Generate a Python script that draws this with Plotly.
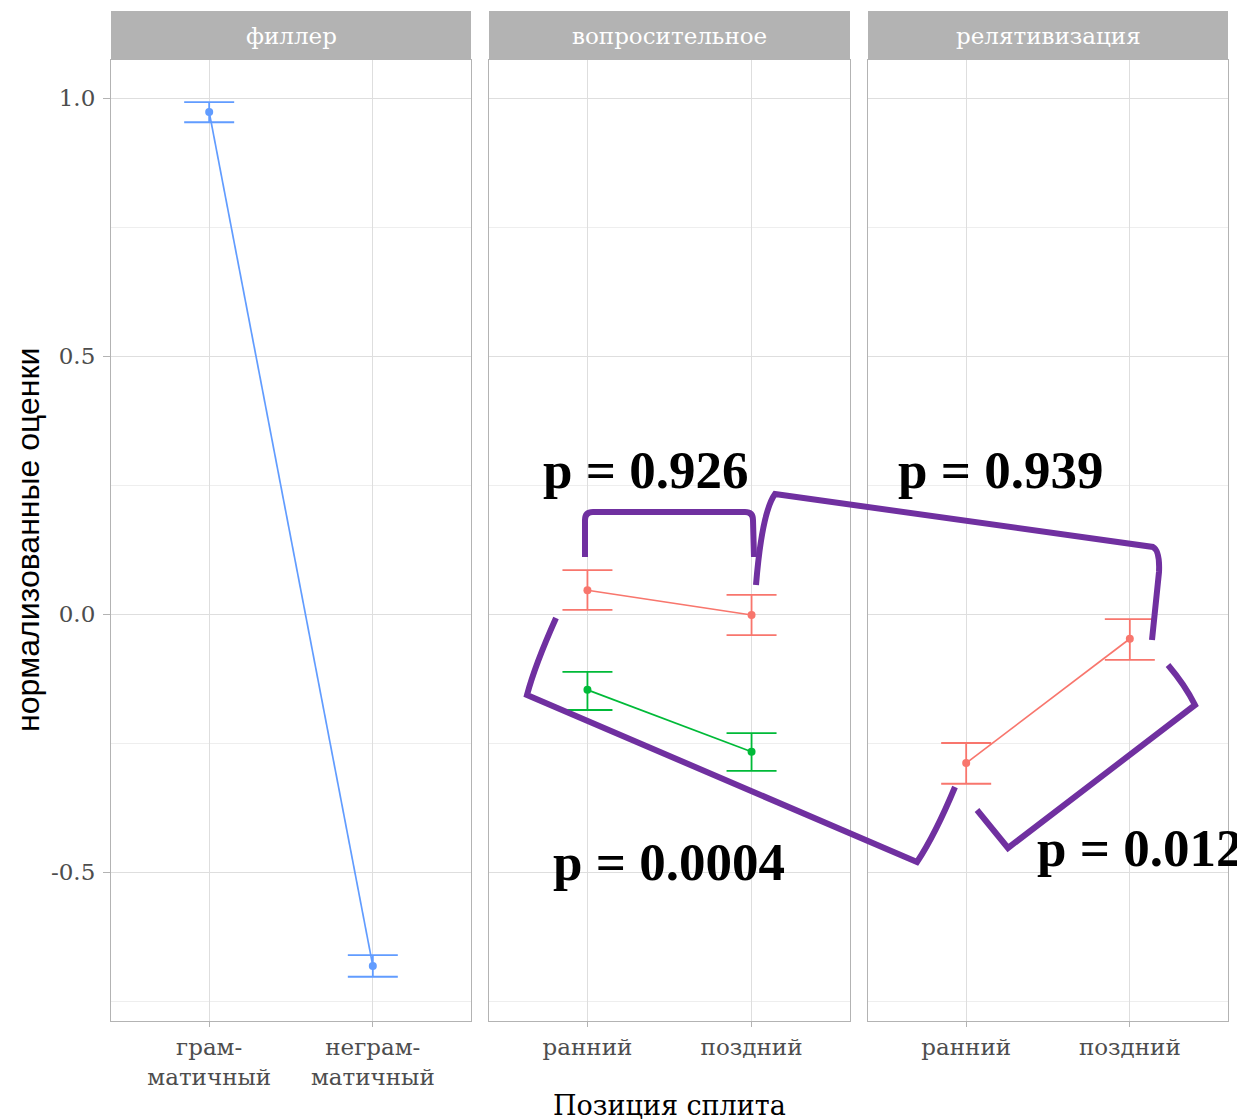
import plotly.graph_objects as go

# ---------------- data ----------------
panels = ["филлер", "вопросительное", "релятивизация"]

filler_cats = ["грам-", "неграм-"]
filler_ticktext = ["грам-<br>матичный", "неграм-<br>матичный"]
filler_mean = [0.973, -0.682]
filler_hi = [0.992, -0.661]
filler_lo = [0.953, -0.703]

pos_cats = ["ранний", "поздний"]

q_red_mean = [0.046, -0.002]
q_red_hi = [0.085, 0.037]
q_red_lo = [0.008, -0.041]

q_green_mean = [-0.147, -0.267]
q_green_hi = [-0.112, -0.231]
q_green_lo = [-0.186, -0.304]

r_red_mean = [-0.289, -0.048]
r_red_hi = [-0.250, -0.010]
r_red_lo = [-0.329, -0.089]

p_labels = ["p = 0.926", "p = 0.939", "p = 0.0004", "p = 0.012"]

y_ticks = [-0.5, 0.0, 0.5, 1.0]
y_ticktext = ["-0.5", "0.0", "0.5", "1.0"]

BLUE = "#619CFF"
RED = "#F8766D"
GREEN = "#00BA38"
PURPLE = "#7030A0"

# page places the figure 8px in from the top-left corner
OFF = 8
W, H = 1245, 1120
PL, PR, PT, PB = 111, 1228, 11, 1021       # plot box in screen pixels
ML = PL - OFF
MT = PT - OFF
MR = W - (PR - OFF)
MB = H - (PB - OFF)
PW = PR - PL
PH = PB - PT


def px(x):
    return (x - PL) / PW


def py(y):
    return (PB - y) / PH


fig = go.Figure()


def add_series(xaxis, yaxis, cats, mean, hi, lo, color):
    fig.add_trace(go.Scatter(
        x=cats, y=mean, xaxis=xaxis, yaxis=yaxis,
        mode="lines+markers",
        line=dict(color=color, width=1.7),
        marker=dict(color=color, size=8),
        error_y=dict(type="data", symmetric=False,
                     array=[h - m for h, m in zip(hi, mean)],
                     arrayminus=[m - l for m, l in zip(mean, lo)],
                     color=color, thickness=1.8, width=25),
        showlegend=False, hoverinfo="skip"))


add_series("x", "y", filler_cats, filler_mean, filler_hi, filler_lo, BLUE)
add_series("x2", "y2", pos_cats, q_red_mean, q_red_hi, q_red_lo, RED)
add_series("x2", "y2", pos_cats, q_green_mean, q_green_hi, q_green_lo, GREEN)
add_series("x3", "y3", pos_cats, r_red_mean, r_red_hi, r_red_lo, RED)

ydom = [0, py(60)]
xdoms = [[px(111), px(471)], [px(489), px(850)], [px(868), px(1228)]]
yrange = [(614 - 1021) / 516, (614 - 60) / 516]

tick_font = dict(family="DejaVu Serif", size=23, color="#4D4D4D")

common_x = dict(type="category", range=[-0.6, 1.6], showgrid=True,
                gridcolor="#DEDEDE", gridwidth=1, showline=True, mirror=True,
                linecolor="#B3B3B3", linewidth=1.2, ticks="outside", ticklen=5,
                tickcolor="#B3B3B3", tickfont=tick_font, zeroline=False)
common_y = dict(range=yrange, domain=ydom, tickmode="array", tickvals=y_ticks,
                showgrid=True, gridcolor="#DEDEDE", gridwidth=1,
                minor=dict(tickmode="array", tickvals=[-0.75, -0.25, 0.25, 0.75],
                           showgrid=True, gridcolor="#EEEEEE", gridwidth=1, ticks=""),
                showline=True, mirror=True, linecolor="#B3B3B3", linewidth=1.2,
                zeroline=False)

fig.update_layout(
    xaxis=dict(common_x, domain=xdoms[0], anchor="y",
               categoryorder="array", categoryarray=filler_cats,
               tickmode="array", tickvals=filler_cats, ticktext=filler_ticktext),
    xaxis2=dict(common_x, domain=xdoms[1], anchor="y2",
                categoryorder="array", categoryarray=pos_cats),
    xaxis3=dict(common_x, domain=xdoms[2], anchor="y3",
                categoryorder="array", categoryarray=pos_cats),
    yaxis=dict(common_y, anchor="x", ticks="outside", ticklen=7,
               tickcolor="#B3B3B3", ticktext=y_ticktext, tickfont=tick_font,
               ticklabelstandoff=3),
    yaxis2=dict(common_y, anchor="x2", showticklabels=False, ticks=""),
    yaxis3=dict(common_y, anchor="x3", showticklabels=False, ticks=""),
)

shapes = []
annotations = []
for name, dom in zip(panels, xdoms):
    shapes.append(dict(type="rect", xref="paper", yref="paper",
                       x0=dom[0], x1=dom[1], y0=py(60), y1=py(11),
                       fillcolor="#B3B3B3", line=dict(width=0), layer="below"))
    annotations.append(dict(xref="paper", yref="paper", x=(dom[0] + dom[1]) / 2,
                            y=py(36), text=name, showarrow=False,
                            xanchor="center", yanchor="middle",
                            font=dict(family="DejaVu Serif", size=23, color="#FFFFFF")))

# axis titles
annotations.append(dict(xref="paper", yref="paper", x=px(28), y=py(540),
                        text="нормализованные оценки", textangle=-90, showarrow=False,
                        xanchor="center", yanchor="middle",
                        font=dict(family="Liberation Sans", size=32, color="#000000")))
annotations.append(dict(xref="paper", yref="paper", x=px(669), y=py(1088),
                        text="Позиция сплита", showarrow=False,
                        xanchor="center", yanchor="top",
                        font=dict(family="DejaVu Serif", size=27, color="#000000")))

# p-value labels
p_pos = [(645, 470), (1000, 470), (669, 862), (1139, 848)]
for lab, (cx, cy) in zip(p_labels, p_pos):
    annotations.append(dict(xref="paper", yref="paper", x=px(cx), y=py(cy),
                            text="<b>" + lab + "</b>", showarrow=False,
                            xanchor="center", yanchor="middle",
                            font=dict(family="Liberation Serif", size=53, color="#000000")))


def path(cmds):
    out = []
    for c in cmds:
        op = c[0]
        pts = c[1:]
        coords = " ".join("%.5f,%.5f" % (px(pts[i]), py(pts[i + 1]))
                          for i in range(0, len(pts), 2))
        out.append(op + coords)
    return " ".join(out)


brackets = [
    [("M", 585, 557), ("L", 585, 520), ("Q", 585, 512, 593, 512),
     ("L", 745, 512), ("Q", 753, 512, 753, 520), ("L", 754, 557)],
    [("M", 756, 585), ("Q", 762, 512, 775, 494), ("L", 1153, 547),
     ("Q", 1160, 551, 1159, 572), ("L", 1152, 640)],
    [("M", 556, 618), ("Q", 535, 665, 527, 695), ("L", 917, 862),
     ("Q", 935, 835, 955, 787)],
    [("M", 977, 810), ("L", 1008, 848), ("L", 1195, 705),
     ("Q", 1185, 685, 1168, 665)],
]
for b in brackets:
    shapes.append(dict(type="path", xref="paper", yref="paper", path=path(b),
                       line=dict(color=PURPLE, width=6), fillcolor="rgba(0,0,0,0)",
                       layer="above"))

fig.update_layout(
    width=W, height=H,
    margin=dict(l=ML, r=MR, t=MT, b=MB),
    paper_bgcolor="white", plot_bgcolor="white",
    shapes=shapes, annotations=annotations,
    showlegend=False,
)

fig.write_html("out.html")
